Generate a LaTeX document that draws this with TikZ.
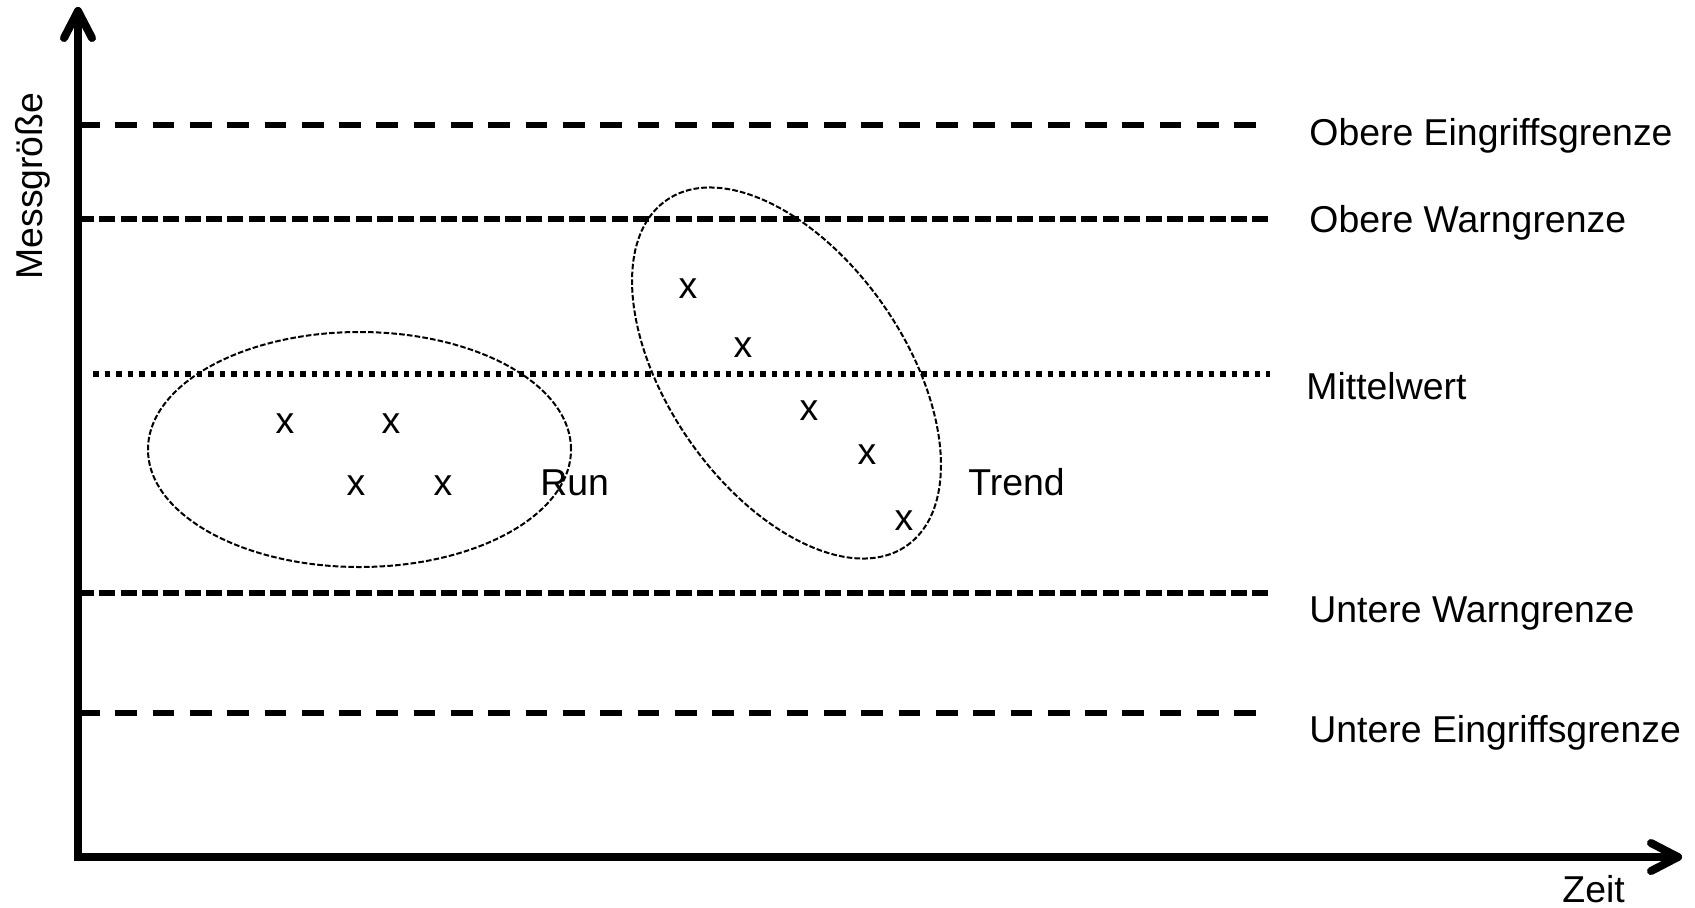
\documentclass[tikz,border=0pt]{standalone}
\usepackage{fontspec}
\setmainfont{Liberation Sans}
\begin{document}
\begin{tikzpicture}[x=0.5pt,y=-0.5pt,
  lbl/.style={font=\fontsize{18.7}{22}\selectfont, inner sep=0pt, anchor=base west},
  xm/.style={font=\fontsize{18.7}{22}\selectfont, inner sep=0pt, anchor=base},
  axisline/.style={line width=4pt, line join=miter, line cap=round},
  arrowarm/.style={line width=4pt, line join=round, line cap=round},
  eingriff/.style={line width=3pt, dash pattern=on 10.85pt off 7.8pt},
  warn/.style={line width=3pt, dash pattern=on 8pt off 2.675pt},
  mittel/.style={line width=3pt, dash pattern=on 2.75pt off 3pt},
  grp/.style={line width=1pt, dash pattern=on 2.8pt off 1.1pt}
]
\useasboundingbox (0,0) rectangle (1695,907);

% limit lines
\draw[eingriff] (78,125) -- (1256,125);
\draw[warn] (78,218.5) -- (1268,218.5);
\draw[mittel] (93,374) -- (1270,374);
\draw[warn] (78,593) -- (1268,593);
\draw[eingriff] (78,713) -- (1256,713);

% axes
\coordinate (ytip) at (78,11);
\coordinate (origin) at (78,857);
\coordinate (xtip) at (1678,857);
\coordinate (ya1) at (64,38);
\coordinate (ya2) at (92,38);
\coordinate (xa1) at (1651,843);
\coordinate (xa2) at (1651,871);
\draw[axisline] (ytip) -- (origin) -- (xtip);
\draw[arrowarm] (ya1) -- (ytip) -- (ya2);
\draw[arrowarm] (xa1) -- (xtip) -- (xa2);

% groups
\draw[grp] (359.5,449.5) ellipse [x radius=105.75pt, y radius=58.75pt];
\draw[grp, rotate around={-55.2:(786.5,373)}] (786.5,373) ellipse [x radius=105.2pt, y radius=59.15pt];

% labels
\node[lbl] (oe) at (1309,145) {Obere Eingriffsgrenze};
\node[lbl] (ow) at (1309,232) {Obere Warngrenze};
\node[lbl] (mw) at (1306,399) {Mittelwert};
\node[lbl] (uw) at (1309,622) {Untere Warngrenze};
\node[lbl] (ue) at (1309,742) {Untere Eingriffsgrenze};
\node[lbl] (run) at (540,495) {Run};
\node[lbl] (trend) at (968,495) {Trend};
\node[lbl] (zeit) at (1562,902) {Zeit};
\node[lbl, rotate=90] (mg) at (42,280) {Messgröße};

% run points
\node[xm] (r1) at (285,433) {x};
\node[xm] (r2) at (391,433) {x};
\node[xm] (r3) at (356,495) {x};
\node[xm] (r4) at (443,495) {x};

% trend points
\node[xm] (t1) at (688,298) {x};
\node[xm] (t2) at (743,357.5) {x};
\node[xm] (t3) at (809,420) {x};
\node[xm] (t4) at (867,464.5) {x};
\node[xm] (t5) at (904,530.5) {x};
\end{tikzpicture}
\end{document}
